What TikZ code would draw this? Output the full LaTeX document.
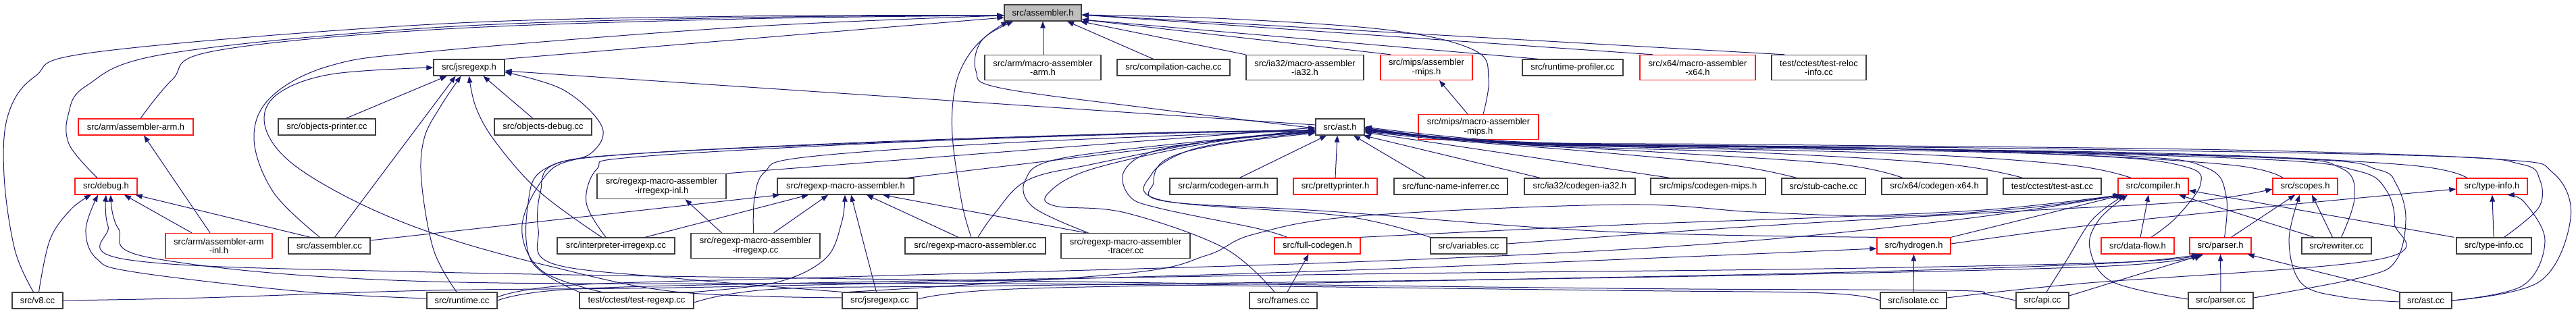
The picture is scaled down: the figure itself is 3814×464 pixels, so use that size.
\documentclass[tikz,border=0pt]{standalone}
\usepackage{fontspec}
\setmainfont{Liberation Sans}
\usepackage{tikz}
\usetikzlibrary{arrows.meta, positioning}
\definecolor{edgeblue}{HTML}{191970}
\definecolor{boxgray}{HTML}{404040}
\definecolor{boxred}{HTML}{FF1A1A}
\definecolor{rootgray}{HTML}{BFBFBF}

\begin{document}
\begin{tikzpicture}[
    x = 1pt, y = -1pt,
    file/.style = {
      rectangle, draw = boxgray, line width = 1.3pt, inner sep = 0pt,
      minimum height = 24pt, align = center,
      font = \fontsize{13}{13.3}\selectfont
    },
    twoline/.style = {minimum height = 37pt},
    cut/.style = {file, draw = boxred},
    root/.style = {file, fill = rootgray},
    dep/.style = {
      draw = edgeblue, line width = 1pt,
      -{Triangle[length = 10pt, width = 7.5pt]}
    },
    ]
\useasboundingbox (0,0) rectangle (3814,464);

% level 0
\node  [root, minimum width = 114pt]  (asm_h)  at  (1544,19)  {src/assembler.h};

% level 1
\node  [file, minimum width = 105pt]  (jsregexp_h)  at  (694.5,100)  {src/jsregexp.h};
\node  [file, twoline, minimum width = 172pt]  (arm_masm_h)  at  (1544,100)  {src/arm/macro-assembler\\-arm.h};
\node  [file, minimum width = 167pt]  (compcache_cc)  at  (1737.5,100)  {src/compilation-cache.cc};
\node  [file, twoline, minimum width = 174pt]  (ia32_masm_h)  at  (1932,100)  {src/ia32/macro-assembler\\-ia32.h};
\node  [cut, twoline, minimum width = 136pt]  (mips_asm_h)  at  (2112,100)  {src/mips/assembler\\-mips.h};
\node  [file, minimum width = 149pt]  (rtprof_cc)  at  (2328.5,100)  {src/runtime-profiler.cc};
\node  [cut, twoline, minimum width = 171pt]  (x64_masm_h)  at  (2513.5,100)  {src/x64/macro-assembler\\-x64.h};
\node  [file, twoline, minimum width = 140pt]  (reloc_cc)  at  (2693,100)  {test/cctest/test-reloc\\-info.cc};

% level 2
\node  [cut, minimum width = 170pt]  (arm_asm_h)  at  (201,188)  {src/arm/assembler-arm.h};
\node  [file, minimum width = 144pt]  (objprint_cc)  at  (484,188)  {src/objects-printer.cc};
\node  [file, minimum width = 144pt]  (objdebug_cc)  at  (804,188)  {src/objects-debug.cc};
\node  [file, minimum width = 72pt]  (ast_h)  at  (1984,188)  {src/ast.h};
\node  [cut, twoline, minimum width = 178pt]  (mips_masm_h)  at  (2189,188)  {src/mips/macro-assembler\\-mips.h};

% level 3
\node  [cut, minimum width = 92pt]  (debug_h)  at  (157,276)  {src/debug.h};
\node  [file, twoline, minimum width = 191pt]  (rmairinl_h)  at  (979.5,276)  {src/regexp-macro-assembler\\-irregexp-inl.h};
\node  [file, minimum width = 202pt]  (rma_h)  at  (1252,276)  {src/regexp-macro-assembler.h};
\node  [file, minimum width = 159pt]  (arm_cg_h)  at  (1811.5,276)  {src/arm/codegen-arm.h};
\node  [cut, minimum width = 124pt]  (pretty_h)  at  (1977,276)  {src/prettyprinter.h};
\node  [file, minimum width = 168pt]  (fni_cc)  at  (2148,276)  {src/func-name-inferrer.cc};
\node  [file, minimum width = 164pt]  (ia32_cg_h)  at  (2339,276)  {src/ia32/codegen-ia32.h};
\node  [file, minimum width = 170pt]  (mips_cg_h)  at  (2529,276)  {src/mips/codegen-mips.h};
\node  [file, minimum width = 124pt]  (stubcache_cc)  at  (2700,276)  {src/stub-cache.cc};
\node  [file, minimum width = 156pt]  (x64_cg_h)  at  (2864,276)  {src/x64/codegen-x64.h};
\node  [file, minimum width = 145pt]  (testast_cc)  at  (3038.5,276)  {test/cctest/test-ast.cc};
\node  [cut, minimum width = 104pt]  (compiler_h)  at  (3188,276)  {src/compiler.h};
\node  [cut, minimum width = 96pt]  (scopes_h)  at  (3413,276)  {src/scopes.h};
\node  [cut, minimum width = 105pt]  (typeinfo_h)  at  (3689.5,276)  {src/type-info.h};

% level 4
\node  [cut, twoline, minimum width = 158pt]  (armasminl_h)  at  (324,364)  {src/arm/assembler-arm\\-inl.h};
\node  [file, minimum width = 121pt]  (asm_cc)  at  (487.5,364)  {src/assembler.cc};
\node  [file, minimum width = 174pt]  (interp_cc)  at  (912,364)  {src/interpreter-irregexp.cc};
\node  [file, twoline, minimum width = 191pt]  (rmair_cc)  at  (1118.5,364)  {src/regexp-macro-assembler\\-irregexp.cc};
\node  [file, minimum width = 208pt]  (rma_cc)  at  (1444,364)  {src/regexp-macro-assembler.cc};
\node  [file, twoline, minimum width = 191pt]  (rmatracer_cc)  at  (1666.5,364)  {src/regexp-macro-assembler\\-tracer.cc};
\node  [cut, minimum width = 127pt]  (fullcg_h)  at  (1950.5,364)  {src/full-codegen.h};
\node  [file, minimum width = 113pt]  (variables_cc)  at  (2174.5,364)  {src/variables.cc};
\node  [cut, minimum width = 109pt]  (hydrogen_h)  at  (2833.5,364)  {src/hydrogen.h};
\node  [cut, minimum width = 108pt]  (dataflow_h)  at  (3165,364)  {src/data-flow.h};
\node  [cut, minimum width = 91pt]  (parser_h)  at  (3287.5,364)  {src/parser.h};
\node  [file, minimum width = 103pt]  (rewriter_cc)  at  (3459.5,364)  {src/rewriter.cc};
\node  [file, minimum width = 111pt]  (typeinfo_cc)  at  (3692.5,364)  {src/type-info.cc};

% level 5
\node  [file, minimum width = 75pt]  (v8_cc)  at  (55.5,445)  {src/v8.cc};
\node  [file, minimum width = 104pt]  (runtime_cc)  at  (684,445)  {src/runtime.cc};
\node  [file, minimum width = 169pt]  (testregexp_cc)  at  (942.5,445)  {test/cctest/test-regexp.cc};
\node  [file, minimum width = 111pt]  (jsregexp_cc)  at  (1302.5,445)  {src/jsregexp.cc};
\node  [file, minimum width = 100pt]  (frames_cc)  at  (1900,445)  {src/frames.cc};
\node  [file, minimum width = 98pt]  (isolate_cc)  at  (2833,445)  {src/isolate.cc};
\node  [file, minimum width = 78pt]  (api_cc)  at  (3024,445)  {src/api.cc};
\node  [file, minimum width = 96pt]  (parser_cc)  at  (3288,445)  {src/parser.cc};
\node  [file, minimum width = 77pt]  (ast_cc)  at  (3591.5,445)  {src/ast.cc};

% includers of assembler.h
\draw  [dep]  (jsregexp_h.north east)  --  ([yshift=-7pt]asm_h.west);
\draw  [dep]  (arm_masm_h)  --  (asm_h);
\draw  [dep]  ([xshift=-30pt]compcache_cc.north)  --  ([xshift=36pt]asm_h.south);
\draw  [dep]  (ia32_masm_h.north west)  --  ([xshift=-2pt]asm_h.south east);
\draw  [dep]  ([xshift=16pt]mips_asm_h.north west)  --  ([yshift=-10pt]asm_h.east);
\draw  [dep]  ([xshift=24pt]rtprof_cc.north west)  --  ([yshift=-10pt]asm_h.east);
\draw  [dep]  ([xshift=20pt]x64_masm_h.north west)  --  ([yshift=-3pt]asm_h.east);
\draw  [dep]  ([xshift=20pt]reloc_cc.north west)  --  ([yshift=-3pt]asm_h.east);
\draw  [dep]  plot [smooth, tension = .6]  coordinates {([xshift=7pt]mips_masm_h.north) (2204,117) (2184,75) (2060,45) (1820,28) ([yshift=-3pt]asm_h.east)};
\draw  [dep]  plot [smooth, tension = .6]  coordinates {([yshift=-2pt]ast_h.west) (1700,160) (1480,130) (1445,105) (1452,62) ([xshift=6pt]asm_h.south west)};
\draw  [dep]  plot [smooth, tension = .6]  coordinates {([xshift=-6pt]rma_cc.north) (1424,300) (1410,200) (1414,130) (1432,85) (1462,52) ([xshift=14pt]asm_h.south west)};
\draw  [dep]  plot [smooth, tension = .6]  coordinates {([xshift=7pt]arm_asm_h.north) (255,118) (315,76) (640,44) (1100,28) ([yshift=-4pt]asm_h.west)};
\draw  [dep]  plot [smooth, tension = .6]  coordinates {([xshift=-13pt]debug_h.north) (103,215) (101,170) (128,127) (245,80) (640,41) (1100,26) ([yshift=-4pt]asm_h.west)};
\draw  [dep]  plot [smooth, tension = .6]  coordinates {([xshift=-6pt]v8_cc.north) (22,370) (6,260) (12,170) (52,113) (143,77) (640,36) (1100,24) ([yshift=-4pt]asm_h.west)};
\draw  [dep]  plot [smooth, tension = .6]  coordinates {([xshift=-14pt]asm_cc.north) (405,285) (376,205) (402,143) (490,97) (640,76) (1100,40) ([yshift=-4pt]asm_h.west)};

% includers of jsregexp.h
\draw  [dep]  ([xshift=28pt]objprint_cc.north)  --  ([xshift=-33pt]jsregexp_h.south);
\draw  [dep]  ([xshift=8pt]asm_cc.north)  --  ([xshift=-20pt]jsregexp_h.south);
\draw  [dep]  ([xshift=-15pt]objdebug_cc.north)  --  ([xshift=21pt]jsregexp_h.south);
\draw  [dep]  ([yshift=3pt]ast_h.west)  --  ([yshift=-5pt]jsregexp_h.east);
\draw  [dep]  plot [smooth, tension = .6]  coordinates {([xshift=-8pt]runtime_cc.north) (642,370) (624,268) (628,205) (652,158) ([xshift=-12pt]jsregexp_h.south)};
\draw  [dep]  plot [smooth, tension = .6]  coordinates {([xshift=-21pt]interp_cc.north) (800,285) (735,212) (705,160) (jsregexp_h.south)};
\draw  [dep]  plot [smooth, tension = .6]  coordinates {([yshift=4pt]jsregexp_cc.west) (1000,432) (809,393) (654,350) (530,300) (430,240) (392,185) (410,140) (490,110) (jsregexp_h.west)};
\draw  [dep]  plot [smooth, tension = .6]  coordinates {([xshift=-52pt]testregexp_cc.north) (801,400) (773,333) (814,253) (875,227) (891,187) (834,133) ([yshift=-7pt]jsregexp_h.east)};

% includers of debug.h
\draw  [dep]  ([xshift=-40pt]armasminl_h.north)  --  ([xshift=27pt]debug_h.south);
\draw  [dep]  ([xshift=-28pt]asm_cc.north)  --  ([xshift=-3pt]debug_h.south east);
\draw  [dep]  plot [smooth, tension = .6]  coordinates {([xshift=2pt]v8_cc.north) (74,355) (105,310) ([xshift=-22pt]debug_h.south)};
\draw  [dep]  plot [smooth, tension = .6]  coordinates {([yshift=3pt]runtime_cc.west) (450,432) (200,403) (143,383) (127,340) ([xshift=-12pt]debug_h.south)};
\draw  [dep]  plot [smooth, tension = .6]  coordinates {(api_cc.west) (2940,436) (2880,430) (2380,427) (1500,416) (640,403) (192,385) (160,335) (debug_h.south)};
\draw  [dep]  plot [smooth, tension = .6]  coordinates {(isolate_cc.west) (2700,434) (2380,430) (1500,420) (640,417) (230,383) (175,338) ([xshift=7pt]debug_h.south)};
\draw  [dep]  ([xshift=-13pt]armasminl_h.north)  --  ([xshift=12pt]arm_asm_h.south);

% includers of regexp-macro-assembler.h
\draw  [dep]  ([yshift=8pt]asm_cc.east)  --  ([xshift=4pt]rma_h.south west);
\draw  [dep]  ([xshift=43pt]interp_cc.north)  --  ([xshift=-55pt]rma_h.south);
\draw  [dep]  ([xshift=27pt]rmair_cc.north)  --  ([xshift=-26pt]rma_h.south);
\draw  [dep]  ([xshift=-5pt]jsregexp_cc.north)  --  ([xshift=8pt]rma_h.south);
\draw  [dep]  ([xshift=-25pt]rma_cc.north)  --  ([xshift=31pt]rma_h.south);
\draw  [dep]  ([xshift=-58pt]rmatracer_cc.north)  --  ([xshift=55pt]rma_h.south);
\draw  [dep]  plot [smooth, tension = .6]  coordinates {(testregexp_cc.north east) (1150,418) (1222,383) (1246,330) ([xshift=-1pt]rma_h.south)};
\draw  [dep]  ([xshift=-50pt]rmair_cc.north)  --  ([xshift=35pt]rmairinl_h.south);

% includers of ast.h, left
\draw  [dep]  ([xshift=-10pt]rma_h.north east)  --  ([yshift=-3pt]ast_h.west);
\draw  [dep]  (rmairinl_h.north east)  --  ([yshift=-1pt]ast_h.west);
\draw  [dep]  plot [smooth, tension = .6]  coordinates {([xshift=-15pt]interp_cc.north) (868,300) (884,250) (935,233) (1300,212) (1700,197) ([yshift=-5pt]ast_h.west)};
\draw  [dep]  plot [smooth, tension = .6]  coordinates {([xshift=-3pt]rmair_cc.north) (1117,295) (1132,255) (1190,233) (1500,211) ([yshift=-5pt]ast_h.west)};
\draw  [dep]  plot [smooth, tension = .6]  coordinates {(testregexp_cc.north west) (787,387) (782,300) (807,250) (909,230) (1250,213) (1700,198) ([yshift=-6pt]ast_h.west)};
\draw  [dep]  plot [smooth, tension = .6]  coordinates {(jsregexp_cc.north west) (1000,412) (817,390) (797,340) (800,285) (822,243) (950,227) (1300,210) (1700,197) ([yshift=-6pt]ast_h.west)};
\draw  [dep]  plot [smooth, tension = .6]  coordinates {([xshift=4pt]rma_cc.north) (1472,317) (1521,267) (1618,243) (1800,208) ([yshift=-6pt]ast_h.west)};
\draw  [dep]  plot [smooth, tension = .6]  coordinates {([xshift=-55pt]rmatracer_cc.north) (1530,307) (1518,267) (1569,235) (1800,207) ([yshift=-7pt]ast_h.west)};
\draw  [dep]  plot [smooth, tension = .6]  coordinates {([xshift=-13pt]frames_cc.north) (1812,367) (1666,315) (1562,305) (1553,285) (1618,250) (1800,210) ([yshift=-7pt]ast_h.west)};
\draw  [dep]  plot [smooth, tension = .6]  coordinates {([xshift=-45pt]fullcg_h.north) (1860,338) (1715,308) (1672,290) (1665,252) (1715,222) (1850,203) ([yshift=-8pt]ast_h.west)};
\draw  [dep]  plot [smooth, tension = .6]  coordinates {(variables_cc.north west) (1990,320) (1722,297) (1705,258) (1763,222) (1870,204) ([yshift=-8pt]ast_h.west)};
\draw  [dep]  plot [smooth, tension = .6]  coordinates {(hydrogen_h.north west) (2380,343) (1968,313) (1725,298) (1708,270) (1725,237) (1800,215) ([yshift=-9pt]ast_h.west)};

% includers of ast.h, below and right
\draw  [dep]  ([xshift=24pt]arm_cg_h.north)  --  ([xshift=-20pt]ast_h.south);
\draw  [dep]  (pretty_h.north)  --  ([xshift=-4pt]ast_h.south);
\draw  [dep]  ([xshift=-38pt]fni_cc.north)  --  ([xshift=20pt]ast_h.south);
\draw  [dep]  ([xshift=-59pt]ia32_cg_h.north)  --  ([xshift=-2pt]ast_h.south east);
\draw  [dep]  ([xshift=-57pt]mips_cg_h.north)  --  ([yshift=-8pt]ast_h.east);
\draw  [dep]  plot [smooth, tension = .6]  coordinates {([xshift=-40pt]stubcache_cc.north) (2560,244) (2350,224) (2150,208) ([yshift=-7pt]ast_h.east)};
\draw  [dep]  plot [smooth, tension = .6]  coordinates {([xshift=-47pt]x64_cg_h.north) (2720,243) (2450,225) (2250,214) ([yshift=-6pt]ast_h.east)};
\draw  [dep]  plot [smooth, tension = .6]  coordinates {([xshift=-44pt]testast_cc.north) (2880,243) (2600,226) (2250,214) ([yshift=-5pt]ast_h.east)};
\draw  [dep]  plot [smooth, tension = .6]  coordinates {([xshift=-33pt]compiler_h.north) (3060,244) (2800,227) (2300,214) ([yshift=-5pt]ast_h.east)};
\draw  [dep]  plot [smooth, tension = .6]  coordinates {([xshift=-33pt]scopes_h.north) (3300,244) (3000,227) (2500,218) (2250,213) ([yshift=-4pt]ast_h.east)};
\draw  [dep]  plot [smooth, tension = .6]  coordinates {([xshift=-37pt]typeinfo_h.north) (3560,244) (3200,227) (2600,218) (2250,212) ([yshift=-3pt]ast_h.east)};
\draw  [dep]  plot [smooth, tension = .6]  coordinates {([xshift=20pt]dataflow_h.north) (3222,322) (3258,273) (3236,247) (3100,231) (2700,218) (2250,213) ([yshift=-4pt]ast_h.east)};
\draw  [dep]  plot [smooth, tension = .6]  coordinates {([xshift=6pt]parser_h.north) (3296,290) (3268,249) (3150,231) (2700,218) (2250,213) ([yshift=-3pt]ast_h.east)};
\draw  [dep]  plot [smooth, tension = .6]  coordinates {([xshift=7pt]rewriter_cc.north) (3486,292) (3466,249) (3350,233) (2800,220) (2250,212) ([yshift=-2pt]ast_h.east)};
\draw  [dep]  plot [smooth, tension = .6]  coordinates {([xshift=15pt]typeinfo_cc.north) (3759,307) (3760,265) (3732,243) (3600,231) (3000,220) (2250,211) ([yshift=-2pt]ast_h.east)};
\draw  [dep]  plot [smooth, tension = .6]  coordinates {([yshift=4pt]parser_cc.east) (3500,410) (3548,385) (3562,323) (3548,273) (3520,251) (3400,235) (2800,220) (2250,211) ([yshift=-1pt]ast_h.east)};
\draw  [dep]  plot [smooth, tension = .6]  coordinates {(ast_cc.east) (3760,417) (3806,323) (3780,256) (3700,236) (3300,222) (2600,214) (2250,210) (ast_h.east)};
\draw  [dep]  plot [smooth, tension = .6]  coordinates {([yshift=4pt]isolate_cc.east) (3080,420) (3522,384) (3545,330) (3532,280) (3490,253) (3350,236) (2800,220) (2250,211) ([yshift=-1pt]ast_h.east)};

% includers of compiler.h
\draw  [dep]  (hydrogen_h.north east)  --  ([xshift=-45pt]compiler_h.south);
\draw  [dep]  ([xshift=4pt]dataflow_h.north)  --  ([xshift=-7pt]compiler_h.south);
\draw  [dep]  ([xshift=-33pt]rewriter_cc.north)  --  ([xshift=38pt]compiler_h.south);
\draw  [dep]  ([xshift=-3pt]typeinfo_cc.north west)  --  ([yshift=-6pt]compiler_h.east);
\draw  [dep]  plot [smooth, tension = .6]  coordinates {(fullcg_h.north east) (2400,333) (2700,322) (2950,310) ([xshift=-48pt]compiler_h.south)};
\draw  [dep]  plot [smooth, tension = .6]  coordinates {([xshift=-45pt]jsregexp_cc.north) (1666,405) (1787,378) (1856,347) (2012,320) (2400,303) (2600,314) (2806,320) (3000,308) ([xshift=-50pt]compiler_h.south)};
\draw  [dep]  plot [smooth, tension = .6]  coordinates {([yshift=5pt]runtime_cc.east) (850,422) (1250,410) (2000,388) (2520,362) (2900,325) ([xshift=-46pt]compiler_h.south)};
\draw  [dep]  plot [smooth, tension = .6]  coordinates {([xshift=6pt]api_cc.north) (3060,385) (3098,325) ([xshift=-42pt]compiler_h.south)};
\draw  [dep]  plot [smooth, tension = .6]  coordinates {([yshift=2pt]parser_cc.west) (3127,417) (3094,367) (3108,325) ([xshift=-38pt]compiler_h.south)};

% includers of parser.h
\draw  [dep]  (parser_cc)  --  (parser_h);
\draw  [dep]  (ast_cc.north west)  --  ([xshift=-6pt]parser_h.south east);
\draw  [dep]  ([yshift=7pt]api_cc.east)  --  ([xshift=-25pt]parser_h.south);
\draw  [dep]  plot [smooth, tension = .6]  coordinates {(runtime_cc.east) (850,428) (1250,418) (2000,406) (2700,398) (3150,388) ([xshift=-34pt]parser_h.south)};
\draw  [dep]  plot [smooth, tension = .6]  coordinates {([yshift=-3pt]testregexp_cc.east) (1150,428) (1500,423) (2400,411) (3100,395) ([xshift=-30pt]parser_h.south)};
\draw  [dep]  plot [smooth, tension = .6]  coordinates {([yshift=2pt]jsregexp_cc.east) (1500,428) (2000,418) (2700,404) (3120,390) ([xshift=-32pt]parser_h.south)};

% the rest
\draw  [dep]  plot [smooth, tension = .6]  coordinates {(v8_cc.east) (300,441) (640,430) (1000,426) (1500,415) (2000,400) (2500,380) ([yshift=-4pt]hydrogen_h.west)};
\draw  [dep]  (isolate_cc)  --  (hydrogen_h);
\draw  [dep]  ([xshift=6pt]frames_cc.north)  --  ([xshift=-13pt]fullcg_h.south);
\draw  [dep]  plot [smooth, tension = .6]  coordinates {([yshift=3pt]hydrogen_h.east) (3100,333) (3400,302) ([yshift=-4pt]typeinfo_h.west)};
\draw  [dep]  plot [smooth, tension = .6]  coordinates {([yshift=3pt]variables_cc.east) (2600,335) (3000,312) (3250,298) ([yshift=-4pt]scopes_h.west)};
\draw  [dep]  ([xshift=16pt]parser_h.north)  --  ([xshift=-15pt]scopes_h.south);
\draw  [dep]  ([xshift=-6pt]rewriter_cc.north)  --  ([xshift=10pt]scopes_h.south);
\draw  [dep]  plot [smooth, tension = .6]  coordinates {([yshift=-2pt]ast_cc.west) (3470,440) (3408,420) (3389,357) ([xshift=-8pt]scopes_h.south)};
\draw  [dep]  plot [smooth, tension = .6]  coordinates {(ast_cc.east) (3735,423) (3768,357) (3738,300) ([xshift=23pt]typeinfo_h.south)};
\draw  [dep]  (typeinfo_cc)  --  (typeinfo_h);
\draw  [dep]  ([xshift=-16pt]mips_masm_h.north)  --  ([xshift=19pt]mips_asm_h.south);
\end{tikzpicture}
\end{document}
